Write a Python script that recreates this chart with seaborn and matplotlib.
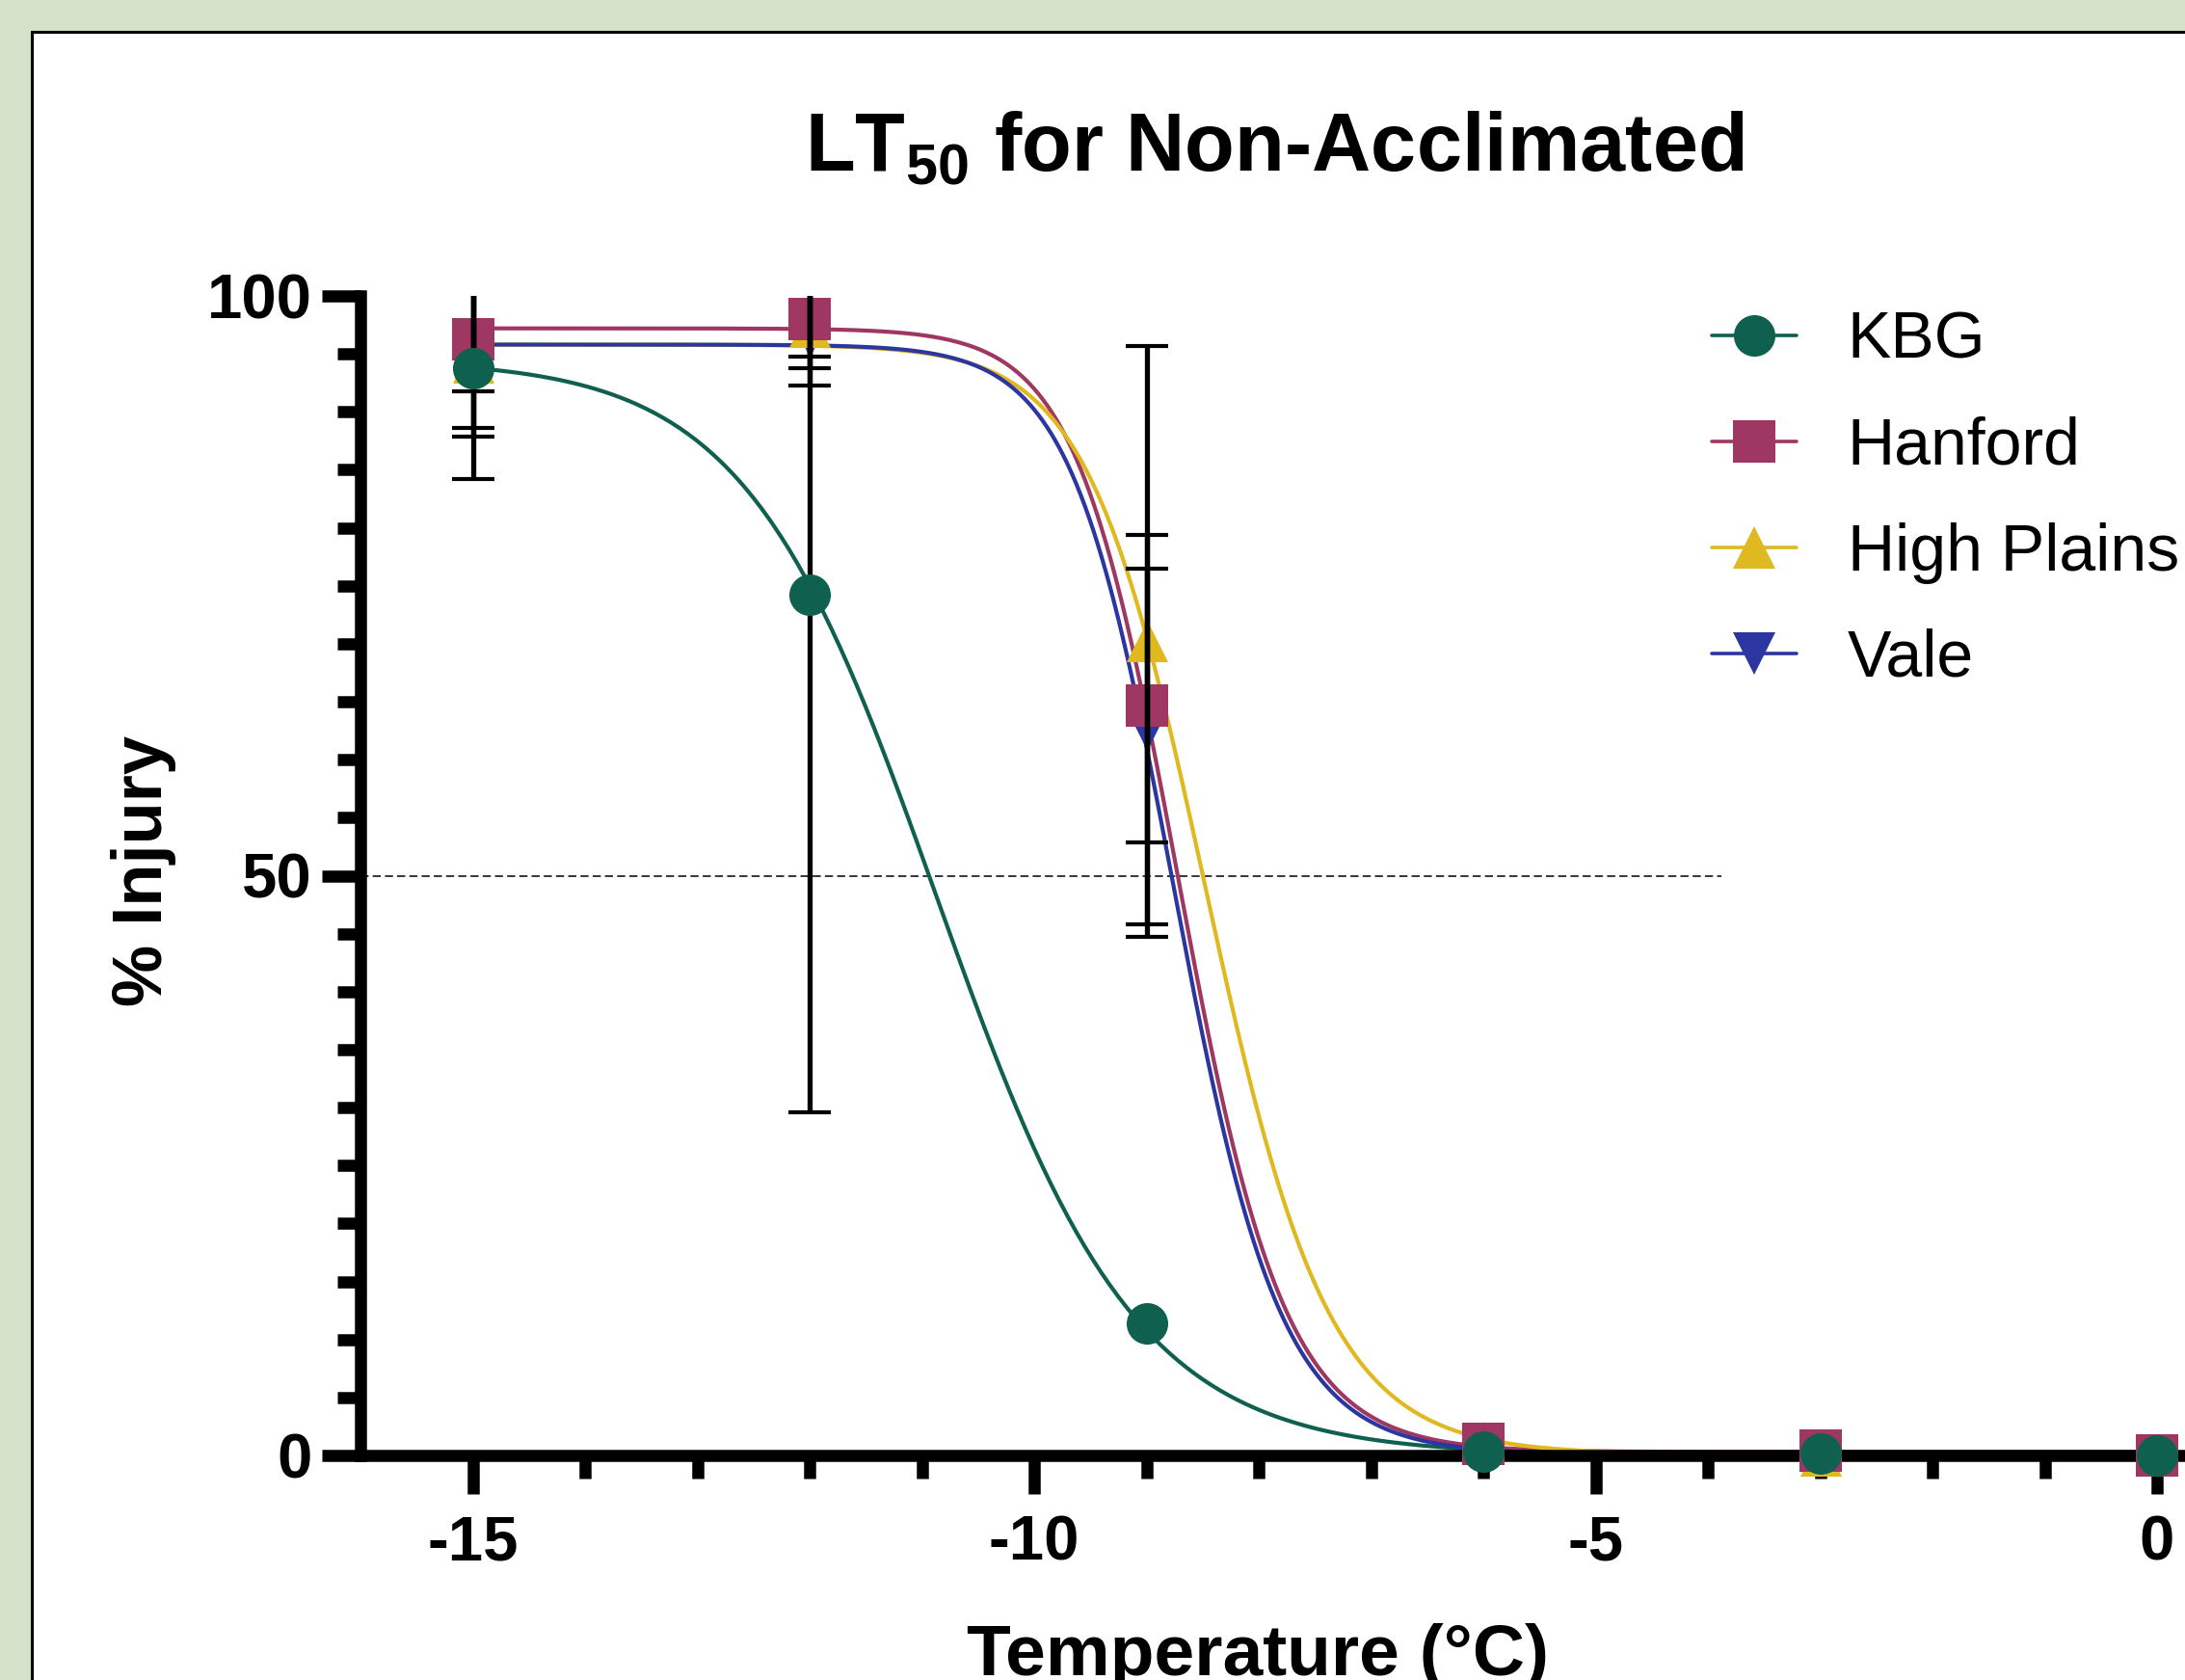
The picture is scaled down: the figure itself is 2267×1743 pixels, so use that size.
import numpy as np
import pandas as pd
import seaborn as sns
import matplotlib.pyplot as plt
from matplotlib.lines import Line2D
from matplotlib.patches import Rectangle

# ---- data ----
temps = [-15, -12, -9, -6, -3, 0]
cultivars = ["KBG", "Hanford", "High Plains", "Vale"]

kbg_mean = [93.8, 74.2, 11.4, 0.3, 0.2, 0.0]
hanford_mean = [96.3, 98.0, 64.7, 1.0, 0.4, 0.0]
high_plains_mean = [94.3, 97.3, 70.2, 1.2, 0.0, 0.0]
vale_mean = [95.0, 96.5, 62.6, 0.8, 0.2, 0.0]

kbg_sd = [9.6, 44.6, 0.0, 0.0, 0.0, 0.0]
hanford_sd = [4.5, 3.2, 11.8, 0.0, 0.0, 0.0]
high_plains_sd = [6.4, 3.5, 25.5, 0.0, 0.0, 0.0]
vale_sd = [6.4, 4.2, 16.8, 0.0, 0.0, 0.0]

# fitted dose-response curves (asymmetric sigmoid), one entry per cultivar
fit_top = [94.5, 97.2, 95.8, 95.8]
fit_bottom = [0.0, 0.3, 0.1, 0.1]
fit_center = [-10.96, -8.80, -8.57, -8.84]
fit_slope = [1.183, 2.25, 1.95, 2.25]
fit_asym = [0.90, 0.85, 0.85, 0.85]

lt50_level = 50
lt50_line_end = -3.88

# ---- style ----
colors = ["#10604f", "#9e3862", "#e0b820", "#2c36a0"]
markers = ["o", "s", "^", "v"]
palette = dict(zip(cultivars, colors))

sns.set_theme(style="ticks")
plt.rcParams["font.family"] = ["Liberation Sans", "DejaVu Sans"]
plt.rcParams["font.weight"] = "bold"
plt.rcParams["axes.unicode_minus"] = False
plt.rcParams["text.color"] = "black"
plt.rcParams["axes.labelcolor"] = "black"
plt.rcParams["mathtext.fontset"] = "custom"
plt.rcParams["mathtext.rm"] = "Liberation Sans:bold"
plt.rcParams["mathtext.bf"] = "Liberation Sans:bold"

W, H = 2267, 1743
fig = plt.figure(figsize=(W / 100, H / 100), dpi=100, facecolor="#d3e2c9")

# white panel with black border (cropped screenshot look)
fig.patches.append(Rectangle((33 / W, -0.05), 1.1, 1 - 33 / H + 0.05, transform=fig.transFigure,
                             facecolor="white", edgecolor="black", lw=2.2, zorder=-1))

x_left, x_right = -16, 0.3
px_per_unit = (2238 - 374) / 16
right_px = 2238 + x_right * px_per_unit
ax = fig.add_axes([374 / W, (H - 1510) / H, (right_px - 374) / W, (1510 - 307) / H])
ax.set_facecolor("white")

# curves
xs = np.linspace(-15, 0, 400)
rows = []
for name, T, B, c, k, s in zip(cultivars, fit_top, fit_bottom, fit_center, fit_slope, fit_asym):
    ys = B + (T - B) / (1 + np.exp(k * (xs - c))) ** s
    rows.append(pd.DataFrame({"temp": xs, "injury": ys, "cultivar": name}))
curves = pd.concat(rows, ignore_index=True)

sns.lineplot(data=curves, x="temp", y="injury", hue="cultivar", hue_order=cultivars,
             palette=palette, linewidth=3.0, estimator=None, legend=False, ax=ax, zorder=2)

means = dict(zip(cultivars, [kbg_mean, hanford_mean, high_plains_mean, vale_mean]))
sds = dict(zip(cultivars, [kbg_sd, hanford_sd, high_plains_sd, vale_sd]))
mk = dict(zip(cultivars, markers))

points = pd.DataFrame({
    "temp": np.tile(temps, len(cultivars)),
    "injury": np.concatenate([means[c] for c in cultivars]),
    "sd": np.concatenate([sds[c] for c in cultivars]),
    "cultivar": np.repeat(cultivars, len(temps)),
})

ax.hlines(lt50_level, x_left, lt50_line_end, colors="black", lw=1.1,
          linestyles=(0, (5.5, 2.8)), zorder=1)

msize = 31 ** 2
for name in ["Vale", "High Plains", "Hanford"]:
    sub = points[points.cultivar == name]
    sns.scatterplot(data=sub, x="temp", y="injury", color=palette[name], marker=mk[name],
                    s=msize, linewidth=0, legend=False, ax=ax, zorder=3, clip_on=False)

bars = points[points.sd > 0]
ax.errorbar(bars.temp, bars.injury, yerr=bars.sd, fmt="none", ecolor="black",
            elinewidth=3.8, capsize=16, capthick=3, zorder=4)

sub = points[points.cultivar == "KBG"]
sns.scatterplot(data=sub, x="temp", y="injury", color=palette["KBG"], marker="o",
                s=msize, linewidth=0, legend=False, ax=ax, zorder=5, clip_on=False)

# axes
ax.set_xlim(x_left, x_right)
ax.set_ylim(0, 100)
sns.despine(ax=ax)
for side in ["left", "bottom"]:
    ax.spines[side].set_linewidth(9)
    ax.spines[side].set_color("black")

ax.set_xticks([-15, -10, -5, 0])
ax.set_xticks([t for t in range(-15, 1) if t % 5 != 0], minor=True)
ax.set_yticks([0, 50, 100])
ax.set_yticks([t for t in range(5, 100, 5) if t % 50 != 0], minor=True)
ax.tick_params(which="major", length=28.5, width=9, color="black", labelsize=47,
               labelcolor="black")
ax.tick_params(which="minor", length=17, width=9, color="black")
ax.tick_params(axis="x", which="major", pad=16)
ax.tick_params(axis="y", which="major", pad=8)

ax.set_xlabel("Temperature (°C)", fontsize=54, fontweight="bold", va="baseline", color="black")
ax.xaxis.set_label_coords((1305 - 374) / (right_px - 374), -(1738 - 1510) / (1510 - 307))
ax.set_ylabel("% Injury", fontsize=52, fontweight="bold", color="black")
ax.yaxis.set_label_coords((183 - 374) / (right_px - 374), 0.504)

fig.text(1322 / W, 1 - 177 / H, r"LT$_{\mathbf{50}}$ for Non-Acclimated", ha="center",
         va="baseline", fontsize=61, fontweight="bold", color="black")

handles = [Line2D([], [], color=palette[c], lw=2.6, marker=mk[c], markersize=31,
                  markeredgewidth=0) for c in cultivars]
fig.legend(handles, cultivars, loc="upper left", bbox_to_anchor=(1776 / W, 1 - 322 / H),
           bbox_transform=fig.transFigure, frameon=False, borderpad=0, borderaxespad=0,
           handlelength=1.29, handletextpad=0.78, labelspacing=0.675,
           labelcolor="black",
           prop={"family": "Liberation Sans", "weight": "normal", "size": 49})

fig.savefig("out.png", dpi=100, facecolor=fig.get_facecolor())
